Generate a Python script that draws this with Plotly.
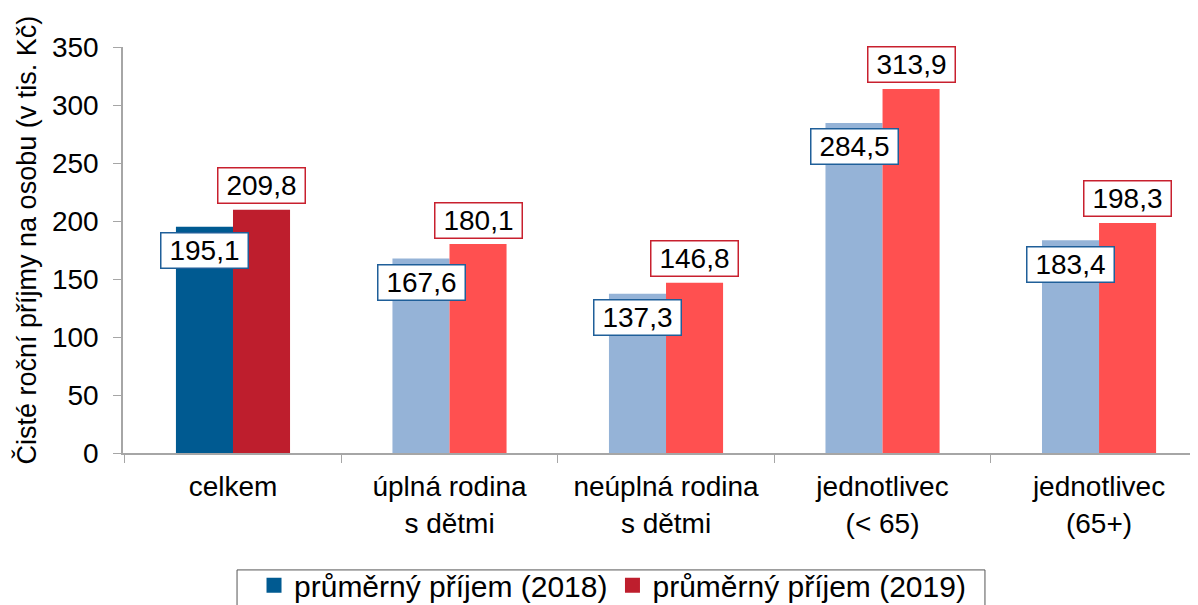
import plotly.graph_objects as go

categories = ["celkem", "úplná rodina<br>s dětmi", "neúplná rodina<br>s dětmi",
              "jednotlivec<br>(< 65)", "jednotlivec<br>(65+)"]
values_2018 = [195.1, 167.6, 137.3, 284.5, 183.4]
values_2019 = [209.8, 180.1, 146.8, 313.9, 198.3]
name_2018 = "průměrný příjem (2018)"
name_2019 = "průměrný příjem (2019)"
y_title = "Čisté roční příjmy na osobu (v tis. Kč)"

colors_2018 = ["#005A91"] + ["#95B3D7"] * 4
colors_2019 = ["#BE1E2D"] + ["#FF5050"] * 4

FONT = "Liberation Sans, Arial, sans-serif"

fig = go.Figure()
fig.add_trace(go.Bar(x=categories, y=values_2018, name=name_2018, showlegend=False,
                     marker=dict(color=colors_2018, line=dict(width=0))))
fig.add_trace(go.Bar(x=categories, y=values_2019, name=name_2019, showlegend=False,
                     marker=dict(color=colors_2019, line=dict(width=0))))
# legend entries (square swatches)
fig.add_trace(go.Scatter(x=[None], y=[None], mode="markers", name=name_2018,
                         marker=dict(symbol="square", size=15, color="#005A91")))
fig.add_trace(go.Scatter(x=[None], y=[None], mode="markers", name=name_2019,
                         marker=dict(symbol="square", size=15, color="#BE1E2D")))

def fmt(v):
    return f"{v:.1f}".replace(".", ",")

annotations = []
for c, v in zip(categories, values_2018):
    annotations.append(dict(x=c, y=v, xref="x", yref="y", text=fmt(v), showarrow=False,
                            xshift=-28.5, yshift=-24, font=dict(size=28, color="black", family=FONT),
                            bgcolor="white", bordercolor="#1F5F99", borderwidth=1.5,
                            width=84, height=32, borderpad=1))
for c, v in zip(categories, values_2019):
    annotations.append(dict(x=c, y=v, xref="x", yref="y", text=fmt(v), showarrow=False,
                            xshift=28.5, yshift=24, font=dict(size=28, color="black", family=FONT),
                            bgcolor="white", bordercolor="#C8202E", borderwidth=1.5,
                            width=84, height=32, borderpad=1))
annotations.append(dict(x=-0.089, y=0.525, xref="paper", yref="paper", text=y_title,
                        textangle=-90, showarrow=False, xanchor="center", yanchor="middle",
                        font=dict(size=27, color="black", family=FONT)))

fig.update_layout(
    width=1198, height=605,
    margin=dict(l=115, r=0, t=39, b=160, autoexpand=False),
    paper_bgcolor="white", plot_bgcolor="white",
    barmode="group", bargap=0.473, bargroupgap=0,
    font=dict(family=FONT, color="black", size=28),
    annotations=annotations,
    shapes=[dict(type="rect", xref="paper", yref="paper", x0=0.1053, x1=0.7959,
                 y0=-0.288, y1=-0.6, line=dict(color="#555555", width=1),
                 fillcolor="rgba(0,0,0,0)", layer="below")],
    showlegend=True,
    legend=dict(orientation="h", x=0.452, xanchor="center", y=-0.262, yanchor="top",
                bgcolor="rgba(0,0,0,0)", borderwidth=0, font=dict(size=30),
                itemwidth=30, traceorder="normal"),
    xaxis=dict(type="category", range=[-0.508, 4.494], showline=True, linecolor="#A6A6A6",
               linewidth=1.5, ticks="outside", tickson="boundaries", ticklen=8,
               tickcolor="#A6A6A6", tickfont=dict(size=28), ticklabelstandoff=8,
               showgrid=False),
    yaxis=dict(range=[0, 350], dtick=50, showline=True, linecolor="#A6A6A6", linewidth=1.5,
               ticks="outside", ticklen=8, tickcolor="#A6A6A6", tickfont=dict(size=28),
               ticklabelstandoff=9, showgrid=False, zeroline=False),
)

fig.write_html("out.html")
